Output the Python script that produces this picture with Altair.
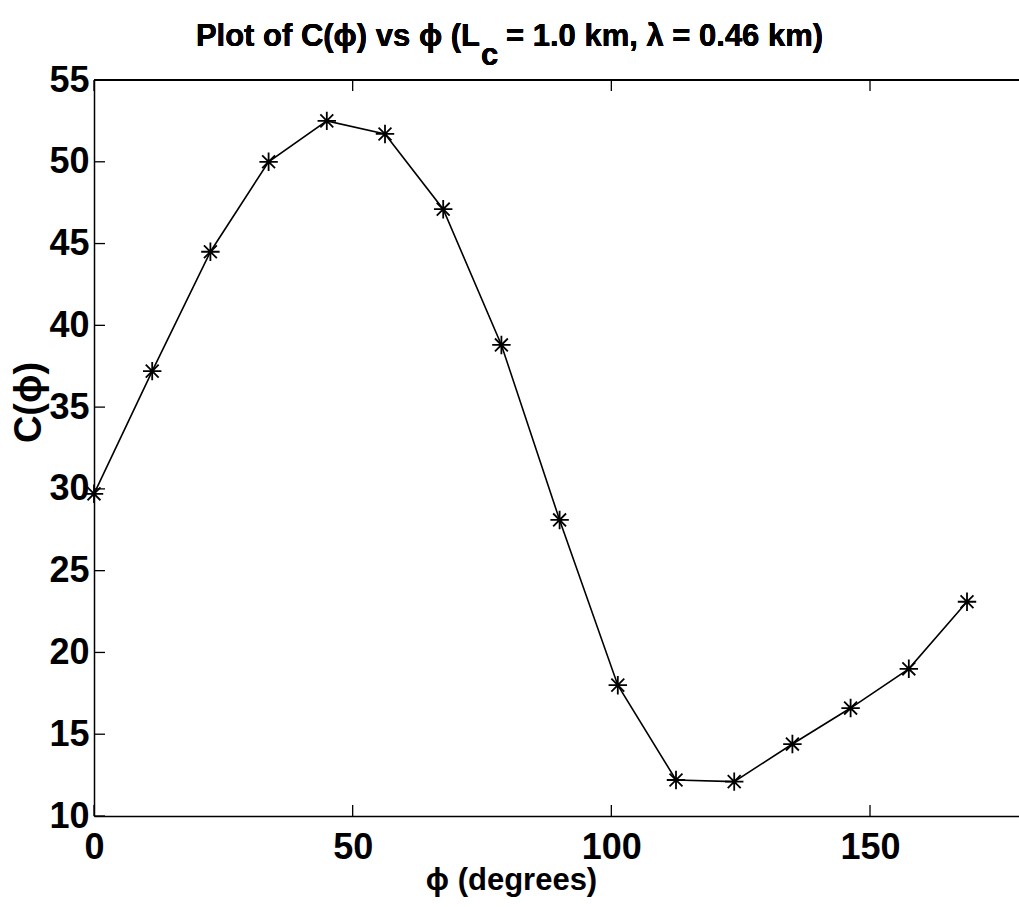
import altair as alt
import pandas as pd

# data
phi_deg = [0, 11.25, 22.5, 33.75, 45, 56.25, 67.5, 78.75, 90, 101.25,
           112.5, 123.75, 135, 146.25, 157.5, 168.75]
c_vals = [29.7, 37.2, 44.5, 50.0, 52.5, 51.7, 47.1, 38.8, 28.1, 18.0,
          12.2, 12.1, 14.4, 16.6, 19.0, 23.1]
x_ticks = [0, 50, 100, 150]
y_ticks = [10, 15, 20, 25, 30, 35, 40, 45, 50, 55]

W, H = 925, 736
FONT = "Liberation Sans"

df = pd.DataFrame({"phi": phi_deg, "C": c_vals})
xt = pd.DataFrame({"t": x_ticks})
yt = pd.DataFrame({"t": y_ticks})

xs = alt.Scale(domain=[0, 178.8], nice=False, zero=False)
ys = alt.Scale(domain=[10, 55], nice=False, zero=False)

star = "M-1,0L1,0M0,-1L0,1M-0.7,-0.7L0.7,0.7M-0.7,0.7L0.7,-0.7"

base = alt.Chart(df)

line = base.mark_line(color="black", strokeWidth=1.6).encode(
    x=alt.X("phi:Q", scale=xs,
            axis=alt.Axis(values=x_ticks, tickSize=0, labelFontSize=36,
                          labelFont=FONT, labelFontWeight="bold",
                          labelColor="black", labelPadding=14,
                          labelFlush=False, labelOverlap=False,
                          domainColor="black", domainWidth=1.5,
                          grid=False, title="ϕ (degrees)",
                          titleFont=FONT, titleFontSize=31,
                          titleFontWeight="bold", titleColor="black",
                          titleX=417, titleY=49, titleAnchor="middle",
                          titleBaseline="top")),
    y=alt.Y("C:Q", scale=ys,
            axis=alt.Axis(values=y_ticks, tickSize=0, labelFontSize=36,
                          labelFont=FONT, labelFontWeight="bold",
                          labelColor="black", labelPadding=5,
                          labelFlush=False, labelOverlap=False,
                          domainColor="black", domainWidth=1.5,
                          grid=False, title="C(ϕ)",
                          titleFont=FONT, titleFontSize=38,
                          titleFontWeight="bold", titleColor="black",
                          titleX=-65, titleY=322, titleAnchor="middle",
                          titleAngle=270, titleBaseline="middle")),
)

points = base.mark_point(shape=star, size=340, filled=False, color="black",
                         strokeWidth=1.8, opacity=1).encode(
    x=alt.X("phi:Q", scale=xs), y=alt.Y("C:Q", scale=ys))

xtick_b = alt.Chart(xt).mark_rule(color="black", strokeWidth=1.3).encode(
    x=alt.X("t:Q", scale=xs), y=alt.value(H), y2=alt.value(H - 11))
xtick_t = alt.Chart(xt).mark_rule(color="black", strokeWidth=1.3).encode(
    x=alt.X("t:Q", scale=xs), y=alt.value(0), y2=alt.value(11))
ytick_l = alt.Chart(yt).mark_rule(color="black", strokeWidth=1.3).encode(
    y=alt.Y("t:Q", scale=ys), x=alt.value(0), x2=alt.value(11))
top_line = alt.Chart(xt).mark_rule(color="black", strokeWidth=2).encode(
    x=alt.value(0), x2=alt.value(W), y=alt.value(0))

title_font = dict(font=FONT, fontWeight="bold", fontSize=31, color="black")
t1 = alt.Chart(xt).mark_text(align="right", baseline="alphabetic",
                             **title_font).encode(
    x=alt.value(386), y=alt.value(-34), text=alt.value("Plot of C(ϕ) vs ϕ (L"))
t2 = alt.Chart(xt).mark_text(align="left", baseline="alphabetic",
                             **title_font).encode(
    x=alt.value(387), y=alt.value(-15), text=alt.value("c"))
t3 = alt.Chart(xt).mark_text(align="left", baseline="alphabetic",
                             **title_font).encode(
    x=alt.value(412), y=alt.value(-34),
    text=alt.value("= 1.0 km, λ = 0.46 km)"))

chart = alt.layer(top_line, xtick_b, xtick_t, ytick_l, line, points,
                  t1, t2, t3).properties(
    width=W, height=H,
    autosize=alt.AutoSizeParams(type="none"),
    padding={"left": 94, "top": 80, "right": 0, "bottom": 91},
).configure_view(stroke=None).configure(background="white")

chart.save("out.html", embed_options={"renderer": "svg", "actions": False})
